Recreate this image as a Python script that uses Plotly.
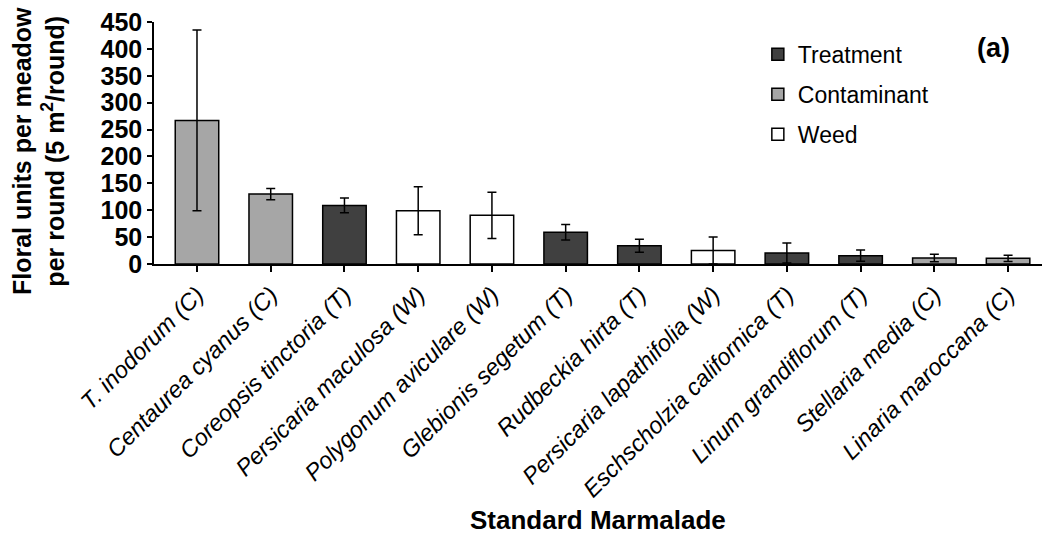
import plotly.graph_objects as go

categories = ["T. inodorum (C)", "Centaurea cyanus (C)", "Coreopsis tinctoria (T)",
              "Persicaria maculosa (W)", "Polygonum aviculare (W)", "Glebionis segetum (T)",
              "Rudbeckia hirta (T)", "Persicaria lapathifolia (W)", "Eschscholzia californica (T)",
              "Linum grandiflorum (T)", "Stellaria media (C)", "Linaria maroccana (C)"]
groups = ["Contaminant", "Contaminant", "Treatment", "Weed", "Weed", "Treatment",
          "Treatment", "Weed", "Treatment", "Treatment", "Contaminant", "Contaminant"]
means = [267, 130, 109, 99, 90.5, 59, 34, 25, 20.5, 15.5, 11, 10.5]
errors = [168, 10.5, 13.5, 44.5, 43, 14.5, 12, 25, 18.5, 10.5, 7, 6]
y_ticks = [0, 50, 100, 150, 200, 250, 300, 350, 400, 450]

legend_order = ["Treatment", "Contaminant", "Weed"]
colors = {"Treatment": "#404040", "Contaminant": "#a6a6a6", "Weed": "#ffffff"}

fig = go.Figure()
for i, g in enumerate(legend_order):
    xs = [c for c, gg in zip(categories, groups) if gg == g]
    ys = [m for m, gg in zip(means, groups) if gg == g]
    es = [e for e, gg in zip(errors, groups) if gg == g]
    fig.add_trace(go.Bar(
        x=xs, y=ys, name=g, legendgroup=g,
        width=0.59,
        marker=dict(color=colors[g], line=dict(color="#000000", width=1.5)),
        error_y=dict(type="data", array=es, visible=True, color="#000000",
                     thickness=1.5, width=4.5),
    ))

font_family = "Arial, Liberation Sans, sans-serif"
fig.update_layout(
    width=1042, height=549,
    margin=dict(l=154, r=0, t=22, b=285),
    paper_bgcolor="white", plot_bgcolor="white",
    barmode="overlay",
    font=dict(family=font_family, color="#000000"),
    showlegend=True,
    legend=dict(x=0.68, y=0.955, xanchor="left", yanchor="top",
                font=dict(size=23, family=font_family, color="#000000"),
                tracegroupgap=7, bgcolor="rgba(0,0,0,0)",
                itemwidth=30),
    xaxis=dict(
        categoryorder="array", categoryarray=categories,
        range=[-0.583, 11.46],
        showline=True, linecolor="#000000", linewidth=1.5,
        ticks="outside", ticklen=6, tickwidth=1.5, tickcolor="#000000",
        tickangle=-45,
        tickfont=dict(size=23.5, family=font_family, style="italic", color="#000000"),
        showgrid=False, zeroline=False,
    ),
    yaxis=dict(
        range=[0, 450], tickvals=y_ticks,
        showline=True, linecolor="#000000", linewidth=1.5,
        ticks="outside", ticklen=5, tickwidth=1.5, tickcolor="#000000",
        tickfont=dict(size=25, family=font_family, weight="bold", color="#000000"),
        showgrid=False, zeroline=False,
    ),
    annotations=[
        dict(text="Floral units per meadow<br>per round (5 m<sup>2</sup>/round)",
             xref="paper", yref="paper", x=(38 - 154) / 888, y=(264 - 151) / 242,
             xanchor="center", yanchor="middle", textangle=-90, showarrow=False,
             font=dict(size=25, family=font_family, weight="bold", color="#000000")),
        dict(text="Standard Marmalade",
             xref="paper", yref="paper", x=0.5, y=(264 - 520) / 242,
             xanchor="center", yanchor="middle", showarrow=False,
             font=dict(size=26, family=font_family, weight="bold", color="#000000")),
        dict(text="(a)",
             xref="paper", yref="paper", x=(993 - 154) / 888, y=(264 - 48) / 242,
             xanchor="center", yanchor="middle", showarrow=False,
             font=dict(size=27, family=font_family, weight="bold", color="#000000")),
    ],
)

fig.write_html("out.html")
